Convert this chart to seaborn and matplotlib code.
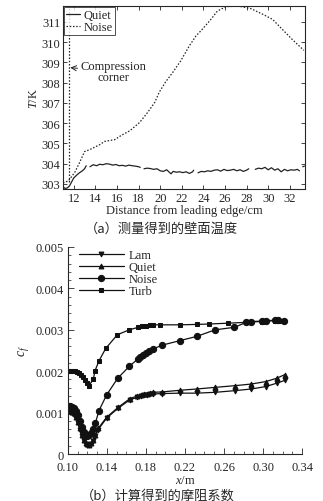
import numpy as np
import pandas as pd
import seaborn as sns
import matplotlib.pyplot as plt
from matplotlib.ticker import MultipleLocator
from matplotlib.lines import Line2D

# ---- (a) measured wall temperature ----
quiet_x = [11.0, 11.2, 11.4, 11.6, 11.8, 12.0, 12.2, 12.4, 12.6, 12.8, 13.0, 13.15,
           13.5, 13.8, 14.1, 14.4, 14.7, 15.0, 15.3, 15.6, 15.9, 16.2, 16.5, 16.8, 17.1, 17.4, 17.7, 18.0, 18.15,
           18.5, 18.8, 19.1, 19.4, 19.7, 20.0, 20.3, 20.6, 20.9, 21.0, 21.2, 21.5, 21.8, 22.1, 22.4, 22.7, 23.0, 23.1,
           23.5, 23.8, 24.1, 24.4, 24.7, 25.0, 25.3, 25.6, 25.9, 26.2, 26.5, 26.8, 27.1, 27.4, 27.7, 28.0, 28.2,
           28.8, 29.1, 29.4, 29.7, 30.0, 30.3, 30.6, 30.9, 31.2, 31.5, 31.8, 32.1, 32.4, 32.7, 32.9,
           33.2, 33.35]
quiet_T = [302.85, 302.78, 302.8, 302.9, 303.1, 303.3, 303.4, 303.5, 303.58, 303.65, 303.75, 303.9,
           303.85, 303.95, 303.9, 303.97, 303.95, 304.0, 303.98, 303.93, 303.96, 303.9, 303.92, 303.88, 303.93, 303.9, 303.88, 303.85, 303.82,
           303.75, 303.78, 303.76, 303.72, 303.75, 303.65, 303.62, 303.7, 303.55, 303.5, 303.62, 303.58, 303.6, 303.56, 303.6, 303.52, 303.6, 303.68,
           303.55, 303.62, 303.6, 303.65, 303.62, 303.68, 303.7, 303.63, 303.72, 303.66, 303.68, 303.72, 303.65, 303.7, 303.62, 303.68, 303.75,
           303.72, 303.78, 303.75, 303.82, 303.7, 303.8, 303.68, 303.75, 303.6, 303.72, 303.65, 303.7, 303.68, 303.72, 303.65,
           303.85, 303.88]
quiet_seg = [1] * 12 + [2] * 17 + [3] * 18 + [4] * 17 + [5] * 15 + [6] * 2

noise_x = [11.0, 11.5, 12.1, 12.55, 13.0, 13.5, 14.4, 14.85, 15.8, 16.4, 17.2, 18.1, 18.85, 19.5,
           19.9, 20.5, 21.15, 21.9, 22.7, 23.3, 23.9, 24.7, 25.3, 26.1, 27.3, 28.4, 29.5, 30.4,
           31.3, 32.2, 33.3]
noise_T = [303.05, 303.15, 303.58, 304.07, 304.6, 304.7, 304.94, 305.1, 305.19, 305.4, 305.63, 306.04,
           306.54, 307.03, 307.52, 308.04, 308.5, 309.08, 309.82, 310.3, 310.64, 311.13, 311.54, 311.76,
           311.78, 311.66, 311.38, 311.13, 310.64, 310.15, 309.6]

corner_x = 11.55

# ---- (b) computed skin friction ----
x_lq = [0.100, 0.102, 0.104, 0.106, 0.108, 0.110, 0.112, 0.114, 0.116, 0.118, 0.120, 0.122, 0.124,
        0.126, 0.128, 0.131, 0.1397, 0.1516, 0.1636, 0.171, 0.175, 0.178, 0.181, 0.184, 0.187,
        0.1967, 0.215, 0.232, 0.251, 0.271, 0.288, 0.303, 0.314, 0.3226]
lam_cf = [0.00101, 0.00101, 0.00099, 0.00095, 0.00087, 0.00075, 0.00059, 0.00044, 0.00032, 0.00025,
          0.00022, 0.00022, 0.00025, 0.00032, 0.00043, 0.00059, 0.00087, 0.00111, 0.00131, 0.00137,
          0.00140, 0.00142, 0.00143, 0.00144, 0.00145, 0.00146, 0.00147, 0.00147, 0.00149, 0.00153,
          0.00157, 0.00163, 0.00171, 0.00178]
quiet_cf = [0.00103, 0.00104, 0.00102, 0.00098, 0.00090, 0.00078, 0.00062, 0.00046, 0.00034, 0.00026,
            0.00023, 0.00022, 0.00026, 0.00034, 0.00046, 0.00062, 0.00089, 0.00113, 0.00134, 0.00140,
            0.00142, 0.00144, 0.00146, 0.00148, 0.00149, 0.00150, 0.00154, 0.00157, 0.00161, 0.00165,
            0.00169, 0.00175, 0.00183, 0.00192]

x_noise = [0.100, 0.102, 0.104, 0.106, 0.108, 0.110, 0.112, 0.114, 0.116, 0.118, 0.120, 0.122, 0.124,
           0.126, 0.128, 0.1318, 0.1397, 0.151, 0.163, 0.1714, 0.174, 0.177, 0.180, 0.183, 0.1875,
           0.1967, 0.215, 0.232, 0.251, 0.2706, 0.283, 0.288, 0.2987, 0.303, 0.312, 0.315, 0.3215]
noise_cf = [0.00116, 0.00115, 0.00113, 0.00110, 0.00104, 0.00094, 0.00080, 0.00066, 0.00054, 0.00046,
            0.00044, 0.00045, 0.00050, 0.00060, 0.00074, 0.00105, 0.00143, 0.00183, 0.00212, 0.00229,
            0.00235, 0.00240, 0.00245, 0.00250, 0.00254, 0.00263, 0.00274, 0.00284, 0.00300, 0.00306,
            0.00318, 0.00320, 0.00321, 0.00322, 0.00323, 0.00323, 0.00322]

x_turb = [0.099, 0.101, 0.103, 0.105, 0.107, 0.109, 0.111, 0.113, 0.115, 0.117, 0.119, 0.1215,
          0.126, 0.1277, 0.1318, 0.1387, 0.1506, 0.1629, 0.172, 0.176, 0.180, 0.184, 0.1875, 0.194,
          0.215, 0.232, 0.245, 0.2644, 0.283, 0.288, 0.2987, 0.303, 0.312, 0.316, 0.3215]
turb_cf = [0.00200, 0.00200, 0.00200, 0.00200, 0.00200, 0.00199, 0.00196, 0.00191, 0.00185, 0.00178,
           0.00171, 0.00165, 0.00181, 0.00201, 0.00225, 0.00255, 0.00288, 0.00300, 0.00306, 0.00308,
           0.00310, 0.00311, 0.00312, 0.00312, 0.00312, 0.00313, 0.00314, 0.00316, 0.00318, 0.00319,
           0.00320, 0.00321, 0.00322, 0.00322, 0.00322]

xticks_b = [0.10, 0.14, 0.18, 0.22, 0.26, 0.30, 0.34]
yticks_b = [0, 0.001, 0.002, 0.003, 0.004, 0.005]
ytick_labels_b = ["0", "0.001", "0.002", "0.003", "0.004", "0.005"]

sns.set_style("ticks")
serif = ["Liberation Serif", "DejaVu Serif"]
cjk = ["Noto Sans CJK SC", "DejaVu Sans"]
plt.rcParams["font.family"] = serif
plt.rcParams["mathtext.fontset"] = "custom"
plt.rcParams["mathtext.it"] = "Liberation Serif:italic"
plt.rcParams["mathtext.rm"] = "Liberation Serif"
plt.rcParams["xtick.direction"] = "in"
plt.rcParams["ytick.direction"] = "in"

fig = plt.figure(figsize=(3.23, 5.02), dpi=100)
fs = 9

# ---------- top panel ----------
ax1 = fig.add_axes([0.195, 0.6215, 0.749, 0.365])
dq = pd.DataFrame({"x": quiet_x, "T": quiet_T, "seg": quiet_seg})
sns.lineplot(data=dq, x="x", y="T", units="seg", estimator=None, color="#222222",
             linewidth=0.9, ax=ax1, sort=False)
sns.lineplot(x=noise_x, y=noise_T, color="#222222", linewidth=0.9, linestyle=(0, (1.2, 1.4)),
             ax=ax1, sort=False, estimator=None)
ax1.axvline(corner_x, ymin=0.04, ymax=1, color="#222222", linewidth=0.9, linestyle=(0, (1.2, 1.4)))
ax1.annotate("Compression\ncorner", xy=(corner_x, 308.75), xytext=(15.7, 308.55),
             ha="center", va="center", fontsize=fs, linespacing=0.95,
             arrowprops=dict(arrowstyle="->", color="#222222", lw=0.7, shrinkA=0, shrinkB=1))
ax1.set_xlim(11.0, 33.4)
ax1.set_ylim(302.75, 311.8)
ax1.set_xticks(range(12, 33, 2))
ax1.set_yticks(range(303, 312))
ax1.tick_params(labelsize=fs, length=3, width=0.6, pad=2, top=True, right=True)
for s in ax1.spines.values():
    s.set_linewidth(0.8)
ax1.set_xlabel("Distance from leading edge/cm", fontsize=fs, labelpad=0)
ax1.set_ylabel(r"$T$/K", fontsize=fs, labelpad=1)
h1 = [Line2D([], [], color="#222222", lw=0.9),
      Line2D([], [], color="#222222", lw=0.9, linestyle=(0, (1.2, 1.4)))]
leg1 = ax1.legend(h1, ["Quiet", "Noise"], loc="upper left", fontsize=fs, handlelength=1.1,
                  handletextpad=0.3, borderpad=0.15, labelspacing=0.0, borderaxespad=0.1,
                  fancybox=False, frameon=True)
leg1.get_frame().set_edgecolor("#222222")
leg1.get_frame().set_linewidth(0.7)
fig.text(0.5, 0.543, "（a）测量得到的壁面温度", ha="center", va="center", fontsize=9.5, family=cjk)

# ---------- bottom panel ----------
ax2 = fig.add_axes([0.2105, 0.0936, 0.7245, 0.4124])
kw = dict(color="#111111", linewidth=0.9, ax=ax2, estimator=None, sort=False, markeredgecolor="#111111")
sns.lineplot(x=x_lq, y=lam_cf, marker="v", markersize=3.5, label="Lam", **kw)
sns.lineplot(x=x_lq, y=quiet_cf, marker="^", markersize=3.5, label="Quiet", **kw)
sns.lineplot(x=x_noise, y=noise_cf, marker="o", markersize=4.5, label="Noise", **kw)
sns.lineplot(x=x_turb, y=turb_cf, marker="s", markersize=3.5, label="Turb", **kw)
ax2.set_xlim(0.10, 0.34)
ax2.set_ylim(0, 0.005)
ax2.set_xticks(xticks_b)
ax2.set_xticklabels([f"{v:.2f}" for v in xticks_b])
ax2.set_yticks(yticks_b)
ax2.set_yticklabels(ytick_labels_b)
ax2.xaxis.set_minor_locator(MultipleLocator(0.01))
ax2.yaxis.set_minor_locator(MultipleLocator(0.0002))
ax2.tick_params(which="major", labelsize=fs, length=4, width=0.6)
ax2.tick_params(axis="x", which="major", pad=5)
ax2.tick_params(axis="y", which="major", pad=3)
ax2.tick_params(which="minor", length=2, width=0.5)
sns.despine(ax=ax2)
for s in ax2.spines.values():
    s.set_linewidth(0.8)
ax2.set_xlabel(r"$x$/m", fontsize=fs, labelpad=0.5)
ax2.set_ylabel(r"$c_f$", fontsize=fs + 1, labelpad=3)
ax2.legend(loc="upper left", fontsize=fs, frameon=False, handlelength=3.6, handletextpad=0.4,
           labelspacing=0.0, borderaxespad=0.1, bbox_to_anchor=(0.02, 1.02))
fig.text(0.49, 0.012, "（b）计算得到的摩阻系数", ha="center", va="center", fontsize=9.5, family=cjk)

fig.savefig("out.png", dpi=100)
